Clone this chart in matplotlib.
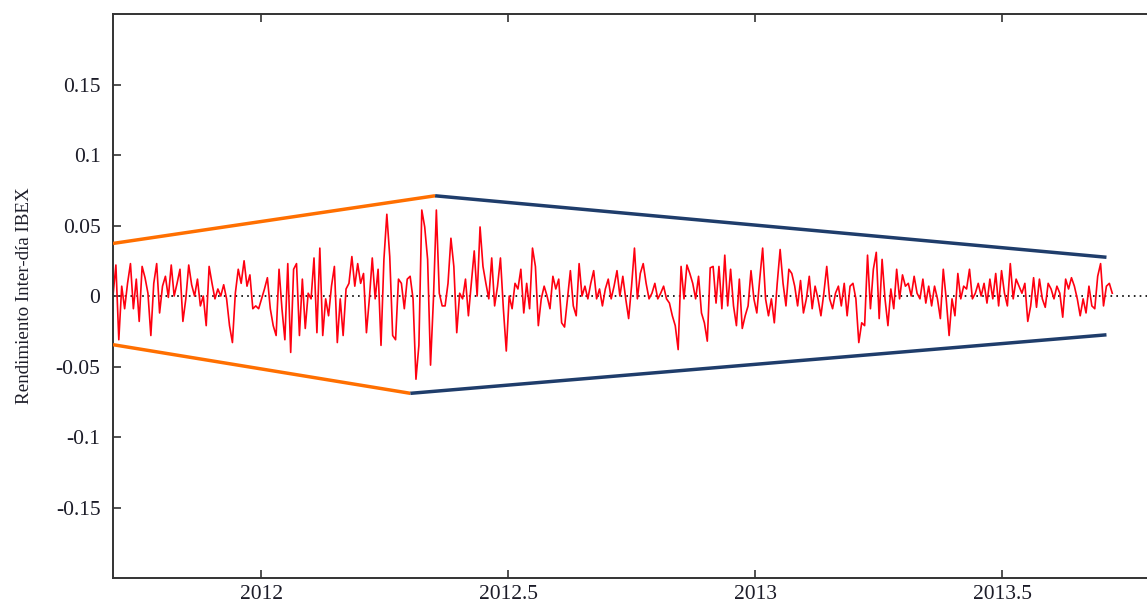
import numpy as np
import matplotlib
matplotlib.use("Agg")
import matplotlib.pyplot as plt

# Daily IBEX returns (inter-day), late 2011 to mid 2013
ibex_returns = [
    0.000, 0.022, -0.031, 0.007, -0.009, 0.009, 0.023, -0.009, 0.012, -0.018,
    0.021, 0.013, 0.002, -0.028, 0.009, 0.023, -0.012, 0.007, 0.014, -0.001,
    0.022, 0.000, 0.009, 0.019, -0.018, -0.002, 0.022, 0.008, 0.000, 0.012,
    -0.007, 0.000, -0.021, 0.021, 0.009, -0.002, 0.005, 0.000, 0.008, -0.002,
    -0.021, -0.033, 0.002, 0.019, 0.009, 0.025, 0.007, 0.015, -0.009,
    -0.007, -0.009, -0.002, 0.005, 0.013, -0.009, -0.021, -0.028, 0.019, -0.009,
    -0.031, 0.023, -0.040, 0.019, 0.023, -0.028, 0.012, -0.023, 0.002, -0.002,
    0.027, -0.026, 0.034, -0.028, -0.002, -0.014, 0.007, 0.021, -0.033, -0.002,
    -0.028, 0.005, 0.009, 0.028, 0.007, 0.023, 0.009, 0.016, -0.026, -0.002,
    0.027, -0.002, 0.019, -0.035, 0.026, 0.058, 0.028, -0.028, -0.031, 0.012,
    0.009, -0.009, 0.012, 0.014, -0.002, -0.059, -0.035, 0.061, 0.049, 0.026,
    -0.049, -0.002, 0.061, 0.002, -0.007, -0.007, 0.009, 0.041, 0.021, -0.026,
    0.002, -0.002, 0.012, -0.014, 0.009, 0.032, 0.000, 0.049, 0.021, 0.009,
    -0.002, 0.027, -0.007, 0.007, 0.027, -0.009, -0.039, 0.000, -0.009, 0.009,
    0.005, 0.019, -0.012, 0.009, -0.009, 0.034, 0.021, -0.021, -0.002, 0.007,
    0.000, -0.009, 0.014, 0.005, 0.012, -0.019, -0.022, -0.002, 0.018, -0.007,
    -0.014, 0.023, 0.000, 0.007, -0.002, 0.009, 0.018, -0.002, 0.005, -0.007,
    0.005, 0.012, -0.002, 0.007, 0.018, 0.000, 0.014, -0.002, -0.016, 0.007,
    0.034, -0.002, 0.016, 0.023, 0.009, -0.002, 0.002, 0.009, -0.002, 0.002,
    0.007, -0.002, -0.005, -0.014, -0.021, -0.038, 0.021, -0.002, 0.022, 0.016,
    0.009, -0.002, 0.014, -0.012, -0.019, -0.032, 0.020, 0.021, -0.005, 0.021,
    -0.009, 0.029, -0.007, 0.019, -0.007, -0.021, 0.012, -0.023, -0.014, -0.007,
    0.018, -0.002, -0.012, 0.012, 0.034, -0.002, -0.014, -0.002, -0.019, 0.009,
    0.033, 0.009, -0.007, 0.019, 0.016, 0.007, -0.007, 0.011, -0.012, -0.002,
    0.014, -0.009, 0.007, -0.002, -0.014, 0.002, 0.021, -0.002, -0.009, 0.002,
    0.007, -0.007, 0.009, -0.014, 0.007, 0.009, -0.002, -0.033, -0.019, -0.021,
    0.029, -0.009, 0.019, 0.031, -0.016, 0.026, -0.002, -0.021, 0.005, -0.009,
    0.019, -0.002, 0.015, 0.007, 0.009, 0.000, 0.014, 0.002, -0.002, 0.012,
    -0.005, 0.007, -0.007, 0.007, -0.002, -0.016, 0.019, -0.002, -0.028, -0.002,
    -0.014, 0.016, -0.002, 0.007, 0.005, 0.019, -0.002, 0.002, 0.009, 0.000,
    0.009, -0.005, 0.012, -0.002, 0.016, -0.007, 0.018, 0.002, -0.007, 0.023,
    -0.002, 0.012, 0.007, 0.002, 0.009, -0.018, -0.007, 0.013, -0.008, 0.012,
    -0.002, -0.008, 0.009, 0.005, -0.002, 0.007, 0.002, -0.015, 0.012, 0.005,
    0.013, 0.007, -0.002, -0.014, -0.002, -0.012, 0.007, -0.007, -0.009, 0.014,
    0.023, -0.007, 0.007, 0.009, 0.002,
]
date_start, date_end = 2011.70, 2013.7227
dates = np.linspace(date_start, date_end, len(ibex_returns))

# Volatility envelope: widening phase (orange) and narrowing phase (blue)
widen_upper_x = [2011.70, 2012.352]
widen_upper_y = [0.0373, 0.0711]
widen_lower_x = [2011.70, 2012.302]
widen_lower_y = [-0.0345, -0.0690]
narrow_upper_x = [2012.352, 2013.711]
narrow_upper_y = [0.0711, 0.0275]
narrow_lower_x = [2012.302, 2013.711]
narrow_lower_y = [-0.0690, -0.0275]

y_ticks = [-0.15, -0.1, -0.05, 0.0, 0.05, 0.1, 0.15]
y_tick_labels = ["-0.15", "-0.1", "-0.05", "0", "0.05", "0.1", "0.15"]
x_ticks = [2012.0, 2012.5, 2013.0, 2013.5]
x_tick_labels = ["2012", "2012.5", "2013", "2013.5"]

plt.rcParams["font.family"] = ["Liberation Serif", "DejaVu Serif"]
text_color = "#1c1c28"

fig = plt.figure(figsize=(11.47, 6.08), dpi=100)
ax = fig.add_axes([0.0985, 0.0493, 0.9045, 0.9276])

ax.axhline(0, color="black", linestyle=(0, (1, 2.5)), linewidth=1.2, zorder=1)
ax.plot(dates, ibex_returns, color="#ff0010", linewidth=1.2, zorder=2)

orange = "#ff6f00"
navy = "#1f3d6b"
for xs, ys, col in [(widen_upper_x, widen_upper_y, orange),
                    (widen_lower_x, widen_lower_y, orange),
                    (narrow_upper_x, narrow_upper_y, navy),
                    (narrow_lower_x, narrow_lower_y, navy)]:
    ax.plot(xs, ys, color=col, linewidth=2.5, zorder=3, solid_capstyle="butt")

ax.set_xlim(2011.70, 2013.80)
ax.set_ylim(-0.2, 0.2)
ax.set_yticks(y_ticks)
ax.set_yticklabels(y_tick_labels)
ax.set_xticks(x_ticks)
ax.set_xticklabels(x_tick_labels)

ax.tick_params(axis="both", direction="in", length=6, width=1.2,
               top=True, right=False, labelsize=15.5, colors="#333333",
               labelcolor=text_color)
ax.tick_params(axis="y", pad=9)
ax.tick_params(axis="x", pad=5)

for spine in ax.spines.values():
    spine.set_linewidth(1.4)
    spine.set_color("#333333")

ax.set_ylabel("Rendimiento Inter-día IBEX", fontsize=13.7, color=text_color,
              labelpad=16)

fig.savefig("out.png", dpi=100)
